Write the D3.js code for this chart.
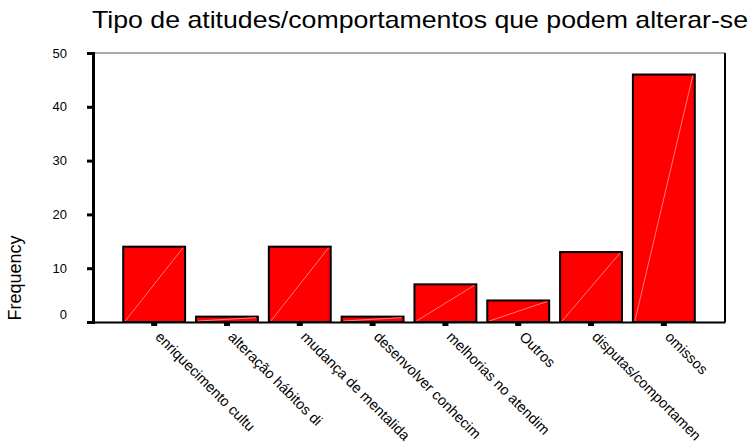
<!DOCTYPE html>
<html>
<head>
<meta charset="utf-8">
<script src="https://cdn.jsdelivr.net/npm/d3@7"></script>
<style>
  body { margin: 0; background: #fff; }
  text { font-family: "Liberation Sans", Arial, sans-serif; fill: #000; }
</style>
</head>
<body>
<svg id="chart" width="753" height="445"></svg>
<script>
// Chart data
const categories = [
  'enriquecimento cultu',
  'alteração hábitos di',
  'mudança de mentalida',
  'desenvolver conhecim',
  'melhorias no atendim',
  'Outros',
  'disputas/comportamen',
  'omissos'
];
const frequencies = [14, 1, 14, 1, 7, 4, 13, 46];
const yTicks = [0, 10, 20, 30, 40, 50];

const title = 'Tipo de atitudes/comportamentos que podem alterar-se';

// Plot area
const plot = { left: 93, right: 725, top: 53, bottom: 322 };

const svg = d3.select('#chart');

const x = d3.scaleBand()
  .domain(categories)
  .range([plot.left, plot.right])
  .paddingInner(0.15)
  .paddingOuter(0.415);

const y = d3.scaleLinear()
  .domain([0, 50])
  .range([plot.bottom, plot.top]);

// Frame (top and right)
svg.append('line')
  .attr('x1', plot.left).attr('x2', plot.right)
  .attr('y1', plot.top).attr('y2', plot.top)
  .style('stroke', '#555').style('stroke-width', 1);
svg.append('line')
  .attr('x1', plot.right).attr('x2', plot.right)
  .attr('y1', plot.top).attr('y2', plot.bottom)
  .style('stroke', '#000').style('stroke-width', 2);

// Bars
const bars = svg.append('g').attr('class', 'bars');
bars.selectAll('rect')
  .data(frequencies)
  .enter()
  .append('rect')
  .attr('x', (d, i) => x(categories[i]))
  .attr('y', d => y(d))
  .attr('width', x.bandwidth())
  .attr('height', d => y(0) - y(d))
  .style('fill', '#ff0000')
  .style('stroke', '#000')
  .style('stroke-width', 2);

// faint diagonal inside each bar
bars.selectAll('line')
  .data(frequencies)
  .enter()
  .append('line')
  .attr('x1', (d, i) => x(categories[i]) + 2)
  .attr('y1', y(0) - 1)
  .attr('x2', (d, i) => x(categories[i]) + x.bandwidth() - 2)
  .attr('y2', d => y(d) + 1)
  .style('stroke', '#ff9a9a')
  .style('stroke-width', 0.8);

// Y axis
const yAxis = svg.append('g')
  .attr('transform', `translate(${plot.left},0)`)
  .call(d3.axisLeft(y).tickValues(yTicks).tickSize(6).tickPadding(20));
yAxis.select('.domain').style('stroke', '#000').style('stroke-width', 3);
yAxis.selectAll('.tick line').style('stroke', '#000').style('stroke-width', 3);
yAxis.selectAll('.tick text')
  .style('font-size', '13px')
  .attr('dy', d => d === 0 ? '-0.3em' : '0.32em');

// X axis
const xAxis = svg.append('g')
  .attr('transform', `translate(0,${plot.bottom})`)
  .call(d3.axisBottom(x).tickSize(0).tickPadding(0));
xAxis.select('.domain').style('stroke', '#000').style('stroke-width', 2);
xAxis.selectAll('.tick')
  .append('rect')
  .attr('x', -3).attr('y', 1)
  .attr('width', 6).attr('height', 3)
  .style('fill', '#000');
xAxis.selectAll('.tick text')
  .style('font-size', '14.5px')
  .style('text-anchor', 'start')
  .attr('transform', 'translate(8,8) rotate(45)')
  .attr('x', 0).attr('y', 0)
  .attr('dy', '0.75em');

// Title
svg.append('text')
  .attr('x', 92)
  .attr('y', 28)
  .attr('textLength', 656)
  .attr('lengthAdjust', 'spacingAndGlyphs')
  .style('font-size', '24px')
  .text(title);

// Y label
svg.append('text')
  .attr('transform', 'translate(21,278) rotate(-90)')
  .attr('text-anchor', 'middle')
  .style('font-size', '18px')
  .text('Frequency');
</script>
</body>
</html>
